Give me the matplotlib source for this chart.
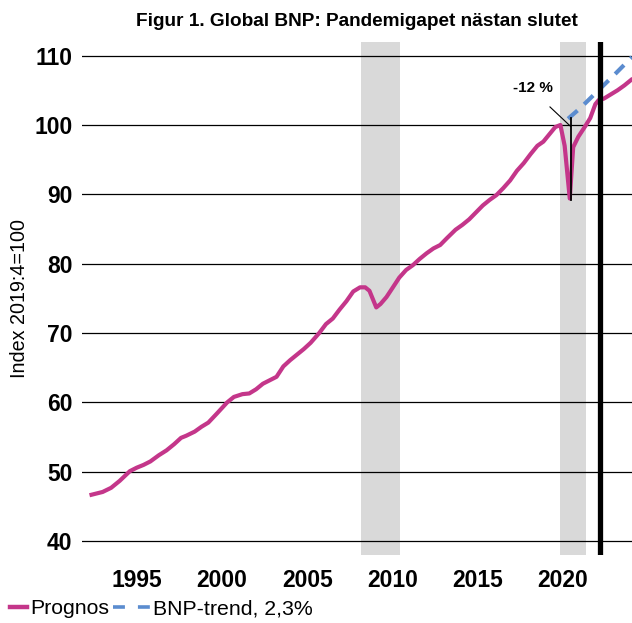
import matplotlib
matplotlib.use("Agg")
import matplotlib.pyplot as plt
from matplotlib.lines import Line2D

plt.rcParams["font.family"] = ["Liberation Sans", "DejaVu Sans"]

# ── Data (year as decimal, index 2019:4 = 100) ──
years = [1992.35, 1993.0, 1993.5, 1994.0, 1994.6, 1995.0, 1995.4, 1995.8,
         1996.3, 1996.75, 1997.2, 1997.6, 1997.9, 1998.4, 1998.8, 1999.2,
         1999.7, 2000.3, 2000.7, 2001.2, 2001.6, 2002.0, 2002.4, 2002.8,
         2003.2, 2003.6, 2004.0, 2004.4, 2004.8, 2005.2, 2005.7, 2006.1,
         2006.5, 2006.9, 2007.3, 2007.7, 2008.1, 2008.4, 2008.65, 2009.05,
         2009.3, 2009.65, 2010.0, 2010.4, 2010.8, 2011.2, 2011.6, 2012.0,
         2012.4, 2012.8, 2013.2, 2013.7, 2014.1, 2014.5, 2014.9, 2015.3,
         2015.7, 2016.1, 2016.5, 2016.9, 2017.3, 2017.7, 2018.1, 2018.5,
         2018.85, 2019.25, 2019.55, 2019.85, 2020.1, 2020.4, 2020.6, 2020.9,
         2021.3, 2021.6, 2021.9, 2022.1, 2022.4, 2022.8, 2023.2, 2023.6,
         2024.0]
prognos = [46.7, 47.1, 47.7, 48.7, 50.1, 50.6, 51.0, 51.5,
           52.4, 53.1, 54.0, 54.9, 55.2, 55.8, 56.5, 57.1,
           58.4, 60.0, 60.8, 61.2, 61.3, 61.9, 62.7, 63.2,
           63.7, 65.2, 66.1, 66.9, 67.7, 68.6, 70.0, 71.3,
           72.1, 73.4, 74.6, 76.0, 76.6, 76.6, 76.1, 73.7,
           74.2, 75.2, 76.5, 78.0, 79.1, 79.8, 80.7, 81.5,
           82.2, 82.7, 83.7, 84.9, 85.6, 86.4, 87.4, 88.4,
           89.2, 89.9, 90.9, 92.0, 93.4, 94.5, 95.8, 97.0,
           97.6, 98.8, 99.7, 100.0, 97.0, 89.4, 96.8, 98.3,
           99.8, 101.0, 103.0, 103.6, 103.8, 104.4, 105.0, 105.7,
           106.5]

trend_years = [2020.3, 2021.0, 2022.0, 2023.0, 2024.05]
trend = [100.9, 102.4, 104.8, 107.2, 109.8]

recessions = [(2008.15, 2010.45), (2019.82, 2021.35)]
forecast_start = 2022.17
dip_year, dip_top, dip_bottom = 2020.45, 101.0, 89.2

y_ticks = [40, 50, 60, 70, 80, 90, 100, 110]
x_ticks = [1995, 2000, 2005, 2010, 2015, 2020]

MAGENTA = "#c4368a"
BLUE = "#5b8ccf"

fig = plt.figure(figsize=(6.32, 6.23), dpi=100)
ax = fig.add_axes([0.13, 0.109, 0.87, 0.824])

for a, b in recessions:
    ax.axvspan(a, b, color="#d9d9d9", zorder=0, lw=0)

for t in y_ticks:
    ax.axhline(t, color="black", lw=0.9, zorder=1)

ax.plot(years, prognos, color=MAGENTA, lw=3, zorder=3, solid_joinstyle="round")
ax.plot(trend_years, trend, color=BLUE, lw=3, ls=(0, (3, 2.2)), zorder=3)

ax.axvline(forecast_start, color="black", lw=3.8, zorder=4)

# -12 % annotation
ax.plot([dip_year, dip_year], [dip_top, dip_bottom], color="black", lw=1.3, zorder=4)
ax.plot([2019.24, dip_year], [102.6, 99.8], color="black", lw=0.8, zorder=4)
ax.text(2018.25, 105.4, "-12 %", ha="center", va="center", fontsize=11,
        fontweight="bold")

ax.set_xlim(1991.8, 2024.05)
ax.set_ylim(38, 112)
ax.set_xticks(x_ticks)
ax.set_yticks(y_ticks)
ax.tick_params(length=0, labelsize=16.5)
ax.tick_params(axis="x", pad=10)
ax.tick_params(axis="y", pad=7)
for lab in ax.get_xticklabels() + ax.get_yticklabels():
    lab.set_fontweight("bold")
for s in ax.spines.values():
    s.set_visible(False)

ax.set_ylabel("Index 2019:4=100", fontsize=14.2, labelpad=4)
ax.set_title("Figur 1. Global BNP: Pandemigapet nästan slutet",
             fontsize=13.7, fontweight="bold", pad=11)

# ── Legend: two pieces so each handle gets its own length ──
leg_y = 1 - 609 / 623
leg1 = fig.legend([Line2D([], [], color=MAGENTA, lw=3.2)], ["Prognos"],
                  loc="center left", bbox_to_anchor=(0.016, leg_y),
                  frameon=False, fontsize=15.3, handlelength=0.8,
                  handletextpad=0.14, borderpad=0, borderaxespad=0)
leg2 = fig.legend([Line2D([], [], color=BLUE, lw=2.6, ls=(0, (3.3, 3.6)))],
                  ["BNP-trend, 2,3%"], loc="center left",
                  bbox_to_anchor=(0.179, leg_y), frameon=False, fontsize=15.3,
                  handlelength=1.74, handletextpad=0.14, borderpad=0,
                  borderaxespad=0)

fig.savefig("out.png", dpi=100)
